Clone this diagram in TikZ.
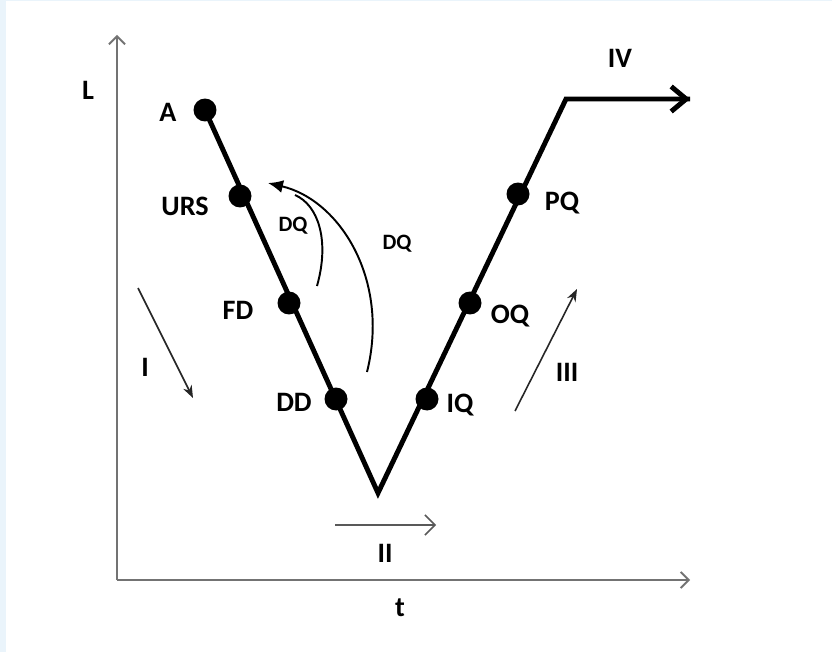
\documentclass[tikz,border=0pt]{standalone}
\usepackage{fontspec}
\setmainfont{Carlito}
\usetikzlibrary{arrows.meta,positioning,calc}
\definecolor{frameblue}{HTML}{EAF4FB}

\begin{document}
\begin{tikzpicture}[x=0.02cm, y=-0.02cm,
    dot/.style={circle, fill=black, inner sep=0pt, minimum size=4.6mm},
    lbl/.style={font=\fontsize{16}{18}\selectfont\bfseries},
    small/.style={font=\fontsize{12.5}{14}\selectfont\bfseries},
    axis/.style={-{Straight Barb[length=1.6mm]}, line width=1.1pt, black!55},
    curve/.style={line width=2.8pt, line join=miter},
    phase/.style={-{Stealth[length=2.5mm]}, line width=0.9pt, black!85},
    dq/.style={line width=1.1pt},
]
\useasboundingbox (0,0) rectangle (832,652);
\fill[frameblue] (0,0) rectangle (832,652);
\fill[white] (6,1) rectangle (832,652);

% --- Axes ---
\coordinate (o) at (117,580);
\coordinate (ytop) at (117,35);
\coordinate (xend) at (690,580);
\draw[axis] (o) -- (ytop);
\draw[axis] (o) -- (xend);
\node[lbl] (ylab) at (88,90) {L};
\node[lbl] (xlab) at (400,608) {t};

% --- V curve ---
\node[dot] (a) at (205,110) {};
\node[dot] (urs) at (240,196) {};
\node[dot] (fd) at (289,303) {};
\node[dot] (dd) at (336,399) {};
\coordinate (low) at (378,493);
\node[dot] (iq) at (427,399) {};
\node[dot] (oq) at (470,303) {};
\node[dot] (pq) at (518,194) {};
\coordinate (turn) at (566,99);
\coordinate (tip) at (690,99);

\draw[curve] (a.center) -- (low) -- (turn) -- (tip);
\draw[line width=2.8pt, -{Straight Barb[length=3mm, width=5mm]}] (turn) -- (tip);

\node[lbl] at (168,112) {A};
\node[lbl] at (185,206) {URS};
\node[lbl] at (238,310) {FD};
\node[lbl] at (294,402) {DD};
\node[lbl] at (460,405) {IQ};
\node[lbl] at (510,316) {OQ};
\node[lbl] at (562,203) {PQ};
\node[lbl] at (620,58) {IV};

% --- DQ arcs ---
\coordinate (dqtip) at (268,183);
\coordinate (dq1) at (317,286);
\coordinate (dq2) at (367,372);
\draw[dq] (dq1) .. controls (330,240) and (318,205) .. (295,195);
\draw[dq, -{Latex[length=3mm, width=2.6mm]}] (dq2) .. controls (390,280) and (340,200) .. (dqtip);
\node[small] at (293,226) {DQ};
\node[small] at (397,244) {DQ};

% --- Phase arrows ---
\coordinate (p1s) at (138,288);
\coordinate (p1e) at (193,398);
\draw[phase] (p1s) -- (p1e);
\node[lbl] at (145,367) {I};
\coordinate (p2s) at (335,525);
\coordinate (p2e) at (436,525);
\draw[phase, black!65, -{Straight Barb[length=2mm]}] (p2s) -- (p2e);
\node[lbl] at (385,553) {II};
\coordinate (p3s) at (515,411);
\coordinate (p3e) at (577,289);
\draw[phase] (p3s) -- (p3e);
\node[lbl] at (567,372) {III};

\end{tikzpicture}
\end{document}
